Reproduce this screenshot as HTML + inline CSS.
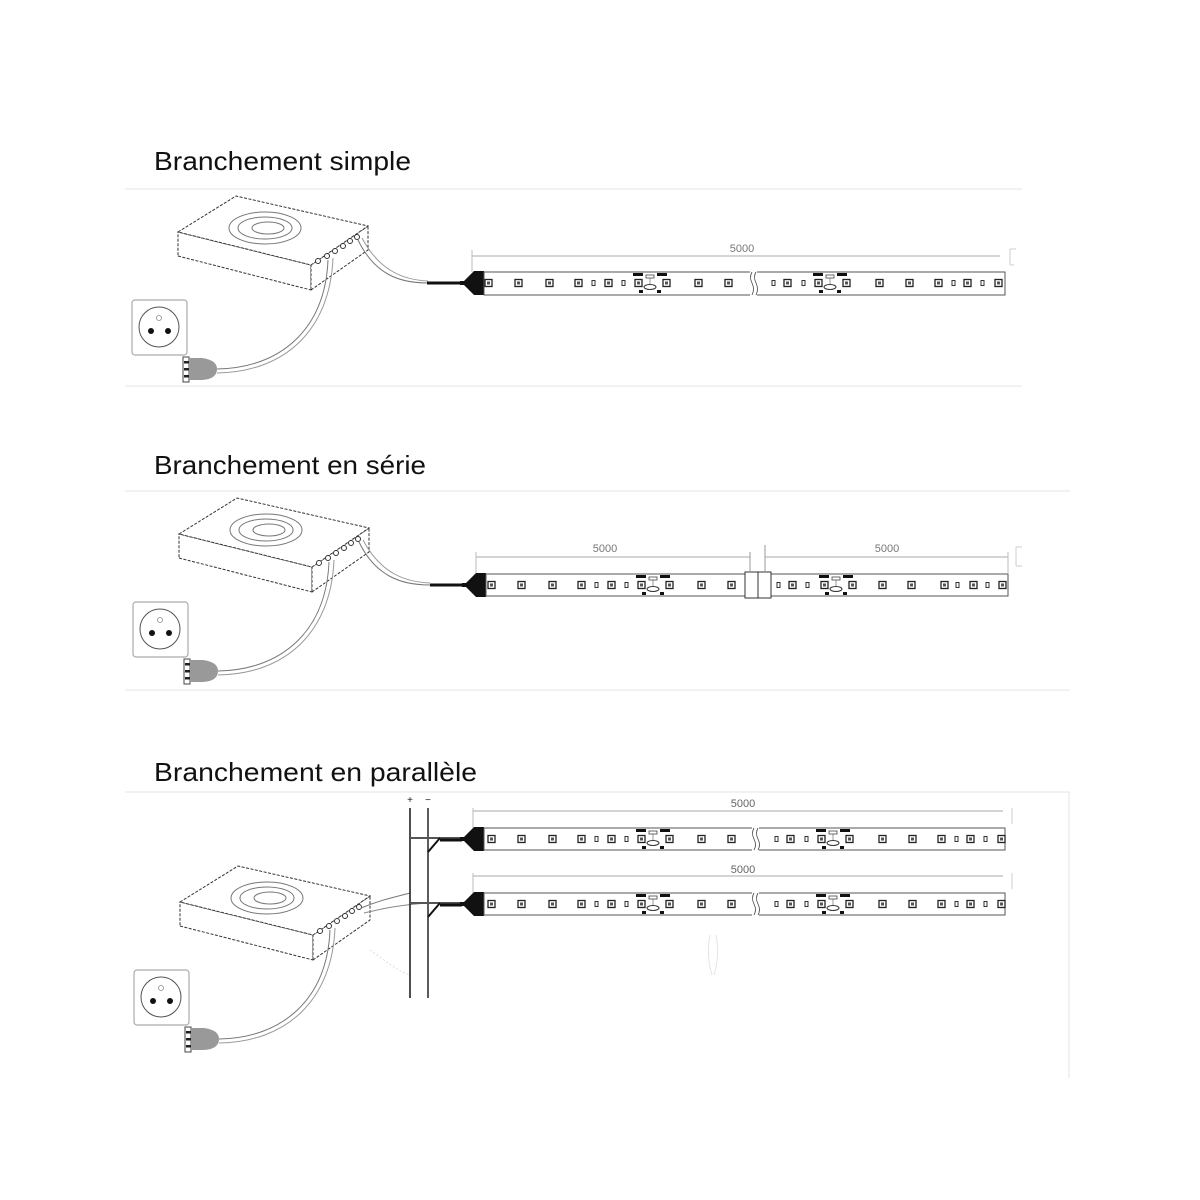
<!DOCTYPE html>
<html><head><meta charset="utf-8"><style>
html,body{margin:0;padding:0;background:#fff;}
svg{display:block;}
text{font-family:"Liberation Sans",sans-serif;}
</style></head><body>
<svg width="1200" height="1200" viewBox="0 0 1200 1200" xmlns="http://www.w3.org/2000/svg">
<defs>
  <g id="led"><rect x="0" y="-3.5" width="7" height="7" fill="#fff" stroke="#222" stroke-width="1.3"/><rect x="2" y="-1.5" width="3" height="3" fill="#555"/></g>
  <g id="sm"><rect x="0" y="-2.5" width="3" height="5" fill="#fff" stroke="#333" stroke-width="1"/></g>
  <g id="clu">
    <rect x="-2" y="-10" width="10" height="3" fill="#111"/><rect x="22" y="-10" width="10" height="3" fill="#111"/>
    <rect x="11" y="-8" width="8" height="3" fill="none" stroke="#444" stroke-width="0.8"/>
    <ellipse cx="15" cy="4" rx="6" ry="2.5" fill="none" stroke="#333" stroke-width="1"/>
    <rect x="4" y="7" width="4" height="3" fill="#111"/><rect x="22" y="7" width="4" height="3" fill="#111"/>
    <line x1="15" y1="-5" x2="15" y2="1" stroke="#555" stroke-width="0.6"/>
  </g>
  <g id="ledsL">
    <use href="#led" x="15"/><use href="#led" x="45"/><use href="#led" x="76"/><use href="#led" x="105"/>
    <use href="#sm" x="122"/><use href="#led" x="135"/><use href="#sm" x="152"/>
    <use href="#led" x="165"/><use href="#clu" x="165"/><use href="#led" x="193"/>
    <use href="#led" x="225"/><use href="#led" x="255"/>
  </g>
  <g id="ledsR">
    <use href="#sm" x="302"/><use href="#led" x="314"/><use href="#sm" x="332"/>
    <use href="#led" x="345"/><use href="#clu" x="345"/><use href="#led" x="373"/>
    <use href="#led" x="406"/><use href="#led" x="436"/><use href="#led" x="465"/>
    <use href="#sm" x="482"/><use href="#led" x="494"/><use href="#sm" x="511"/><use href="#led" x="525"/>
  </g>
  <g id="leds"><use href="#ledsL"/><use href="#ledsR"/></g>
  <g id="conn">
    <polygon points="0,-2 4,-2 14,-12 24,-12 24,12 14,12 4,2 0,2" fill="#111"/>
  </g>
  <g id="box" fill="#fff" stroke="#333" stroke-width="1" stroke-dasharray="3,1.5">
    <polygon points="178,256 311,290 311,265 178,232"/>
    <polygon points="311,290 368,250 368,226 311,265"/>
    <polygon points="178,232 236,196 368,226 311,265"/>
    <g fill="none" stroke="#777" stroke-dasharray="none" stroke-width="1">
      <ellipse cx="265" cy="228" rx="36" ry="16"/>
      <ellipse cx="265" cy="228" rx="27" ry="11"/>
      <ellipse cx="268" cy="228" rx="16" ry="6"/>
    </g>
    <g stroke-dasharray="none" stroke="#333" fill="#fff">
      <circle cx="318" cy="261" r="2.5"/><circle cx="327" cy="256" r="2.5"/><circle cx="335" cy="251" r="2.5"/>
      <circle cx="343" cy="246" r="2.5"/><circle cx="350" cy="241" r="2.5"/><circle cx="357" cy="237" r="2.5"/>
    </g>
  </g>
  <g id="outlet">
    <rect x="132" y="300" width="55" height="55" rx="3" fill="#fff" stroke="#aaa" stroke-width="1.2"/>
    <circle cx="159" cy="327" r="20" fill="none" stroke="#555" stroke-width="1"/>
    <circle cx="159" cy="318" r="2.5" fill="none" stroke="#888" stroke-width="0.8"/>
    <circle cx="151" cy="331" r="3" fill="#111"/><circle cx="168" cy="331" r="3" fill="#111"/>
    <rect x="183" y="357" width="6" height="25" fill="#fff" stroke="#444" stroke-width="1"/>
    <rect x="184" y="361" width="8" height="2.5" fill="#222"/><rect x="184" y="368" width="8" height="2.5" fill="#222"/><rect x="184" y="375" width="8" height="2.5" fill="#222"/>
    <path d="M189,358 L202,358 Q217,360 217,369 Q217,379 202,380 L189,380 Z" fill="#999"/>
    <path d="M217,369 C280,368 325,330 328,260" fill="none" stroke="#777" stroke-width="1"/>
    <path d="M217,373 C285,372 330,330 333,258" fill="none" stroke="#999" stroke-width="1"/>
  </g>
</defs>

<text x="154" y="170" font-size="26" fill="#111" textLength="257" lengthAdjust="spacingAndGlyphs">Branchement simple</text>
<text x="154" y="474" font-size="26" fill="#111" textLength="272" lengthAdjust="spacingAndGlyphs">Branchement en série</text>
<text x="154" y="781" font-size="26" fill="#111" textLength="323" lengthAdjust="spacingAndGlyphs">Branchement en parallèle</text>

<g stroke="#e6e6e6" stroke-width="1">
  <line x1="125" y1="189" x2="1022" y2="189"/><line x1="125" y1="386" x2="1022" y2="386"/>
  <line x1="125" y1="491" x2="1070" y2="491"/><line x1="125" y1="690" x2="1070" y2="690"/>
  <line x1="125" y1="792" x2="1070" y2="792"/><line x1="1069" y1="792" x2="1069" y2="1078"/>
</g>

<!-- Section 1 -->
<use href="#box"/>
<use href="#outlet"/>
<path d="M358,240 C375,275 400,283 428,283" fill="none" stroke="#777" stroke-width="1"/>
<path d="M362,238 C380,272 405,280 428,281" fill="none" stroke="#999" stroke-width="1"/>
<line x1="427" y1="283" x2="462" y2="283" stroke="#111" stroke-width="3"/>
<use href="#conn" x="460" y="283"/>
<rect x="484" y="272" width="521" height="23" fill="#fff" stroke="#555" stroke-width="1"/>
<rect x="750" y="270" width="7" height="27" fill="#fff"/>
<path d="M752,272 q-3,5 0,11 q3,6 0,12 M756,272 q-3,5 0,11 q3,6 0,12" fill="none" stroke="#444" stroke-width="0.8"/>
<use href="#leds" x="470" y="283"/>
<line x1="472" y1="256" x2="1000" y2="256" stroke="#aaa" stroke-width="1"/>
<line x1="472" y1="250" x2="472" y2="272" stroke="#bbb"/>
<path d="M1010,249 v16 M1010,249 h6 M1010,265 h4" stroke="#ccc" fill="none"/>
<text x="742" y="252" font-size="11" fill="#777" text-anchor="middle">5000</text>

<!-- Section 2 -->
<g transform="translate(1,302)"><use href="#box"/><use href="#outlet"/></g>
<path d="M359,542 C376,577 402,585 430,585" fill="none" stroke="#777" stroke-width="1"/>
<path d="M363,540 C381,574 406,582 430,583" fill="none" stroke="#999" stroke-width="1"/>
<line x1="430" y1="585" x2="464" y2="585" stroke="#111" stroke-width="3"/>
<use href="#conn" x="462" y="585"/>
<rect x="486" y="574" width="259" height="22" fill="#fff" stroke="#555" stroke-width="1"/>
<rect x="770" y="574" width="238" height="22" fill="#fff" stroke="#555" stroke-width="1"/>
<use href="#ledsL" x="473" y="585"/>
<rect x="745" y="572" width="13" height="26" fill="#fff" stroke="#333" stroke-width="1"/>
<rect x="758" y="572" width="13" height="26" fill="#fff" stroke="#333" stroke-width="1"/>
<g>
  <use href="#sm" x="777" y="585"/><use href="#led" x="789" y="585"/><use href="#sm" x="806" y="585"/>
  <use href="#led" x="821" y="585"/><use href="#clu" x="821" y="585"/><use href="#led" x="849" y="585"/>
  <use href="#led" x="879" y="585"/><use href="#led" x="908" y="585"/><use href="#led" x="941" y="585"/>
  <use href="#sm" x="956" y="585"/><use href="#led" x="970" y="585"/><use href="#sm" x="986" y="585"/><use href="#led" x="999" y="585"/>
</g>
<line x1="476" y1="557" x2="750" y2="557" stroke="#aaa"/>
<line x1="765" y1="557" x2="1008" y2="557" stroke="#aaa"/>
<line x1="476" y1="552" x2="476" y2="573" stroke="#bbb"/>
<line x1="750" y1="552" x2="750" y2="573" stroke="#999"/>
<line x1="765" y1="545" x2="765" y2="573" stroke="#999"/>
<line x1="1008" y1="552" x2="1008" y2="573" stroke="#bbb"/>
<path d="M1016,547 v19 M1016,547 h6 M1016,566 h6" stroke="#ccc" fill="none"/>
<text x="605" y="552" font-size="11" fill="#777" text-anchor="middle">5000</text>
<text x="887" y="552" font-size="11" fill="#777" text-anchor="middle">5000</text>

<!-- Section 3 -->
<g transform="translate(2,670)"><use href="#box"/><use href="#outlet"/></g>
<path d="M361,908 C380,900 395,897 410,893" fill="none" stroke="#777"/>
<path d="M364,913 C385,908 400,905 428,903" fill="none" stroke="#888"/>
<path d="M370,950 C385,960 395,970 410,975" fill="none" stroke="#ddd" stroke-dasharray="2,2"/>
<line x1="410" y1="808" x2="410" y2="998" stroke="#222" stroke-width="1.6"/>
<line x1="428" y1="808" x2="428" y2="998" stroke="#333" stroke-width="1.6"/>
<text x="410" y="803" font-size="10" fill="#222" text-anchor="middle">+</text>
<text x="428" y="803" font-size="10" fill="#222" text-anchor="middle">−</text>
<line x1="410" y1="838" x2="462" y2="838" stroke="#555" stroke-width="2"/>
<path d="M440,838 L428,852" stroke="#111" stroke-width="2" fill="none"/>
<line x1="440" y1="840" x2="462" y2="840" stroke="#111" stroke-width="3"/>
<use href="#conn" x="460" y="839"/>
<rect x="484" y="828" width="521" height="22" fill="#fff" stroke="#555" stroke-width="1"/>
<rect x="752" y="826" width="7" height="26" fill="#fff"/>
<path d="M754,828 q-3,5 0,11 q3,6 0,11 M758,828 q-3,5 0,11 q3,6 0,11" fill="none" stroke="#444" stroke-width="0.8"/>
<use href="#leds" x="473" y="839"/>
<line x1="473" y1="811" x2="1003" y2="811" stroke="#aaa"/>
<line x1="473" y1="808" x2="473" y2="828" stroke="#bbb"/>
<text x="743" y="807" font-size="11" fill="#666" text-anchor="middle">5000</text>
<path d="M1012,808 v16" stroke="#ccc"/>
<line x1="410" y1="903" x2="462" y2="903" stroke="#555" stroke-width="2"/>
<path d="M440,903 L428,917" stroke="#111" stroke-width="2" fill="none"/>
<line x1="440" y1="905" x2="462" y2="905" stroke="#111" stroke-width="3"/>
<use href="#conn" x="460" y="904"/>
<rect x="484" y="893" width="521" height="22" fill="#fff" stroke="#555" stroke-width="1"/>
<rect x="752" y="891" width="7" height="26" fill="#fff"/>
<path d="M754,893 q-3,5 0,11 q3,6 0,11 M758,893 q-3,5 0,11 q3,6 0,11" fill="none" stroke="#444" stroke-width="0.8"/>
<use href="#leds" x="473" y="904"/>
<line x1="473" y1="876" x2="1003" y2="876" stroke="#aaa"/>
<line x1="473" y1="873" x2="473" y2="893" stroke="#bbb"/>
<text x="743" y="873" font-size="11" fill="#666" text-anchor="middle">5000</text>
<path d="M1012,873 v16" stroke="#ccc"/>
<path d="M710,935 q-4,20 2,40 M716,935 q4,20 -2,40" stroke="#e4e4e4" fill="none"/>
</svg>
</body></html>
